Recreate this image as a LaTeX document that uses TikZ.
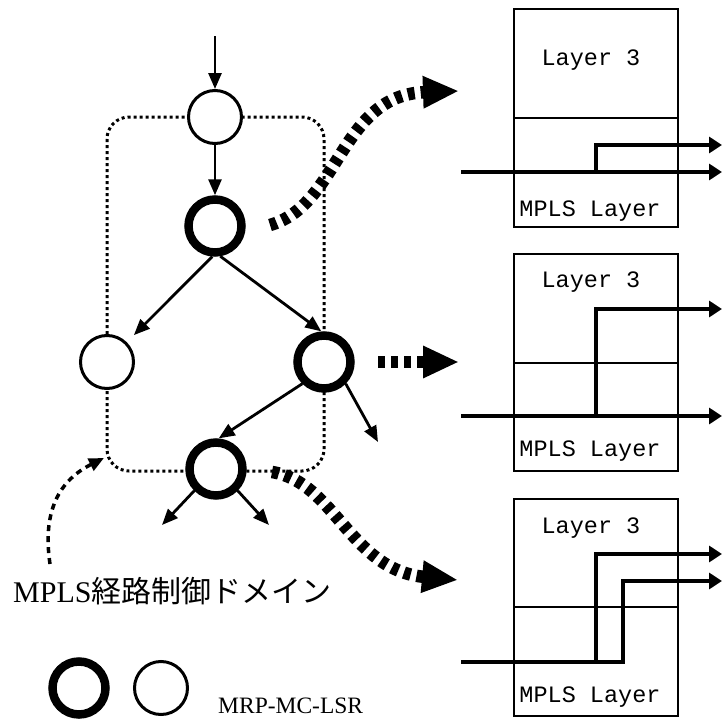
\documentclass[tikz,border=0pt]{standalone}
\usepackage{fontspec}
\setmainfont{Liberation Serif}
\newfontfamily\cjk{Noto Sans CJK JP}
\newfontfamily\monof{Liberation Mono}
\usetikzlibrary{arrows.meta}
\begin{document}
\begin{tikzpicture}[x=1pt,y=-1pt,
  thinnode/.style={circle,draw,line width=3pt,fill=white,minimum size=53pt,inner sep=0pt},
  thicknode/.style={circle,draw,line width=8.5pt,fill=white,minimum size=53pt,inner sep=0pt},
  flow/.style={line width=2.8pt,-{Triangle[length=16pt,width=13pt]}},
  bigflow/.style={line width=12.5pt,dash pattern=on 7pt off 6pt,-{Triangle[length=36pt,width=30pt]}},
  smallflow/.style={line width=3.5pt,dash pattern=on 6pt off 5pt,-{Triangle[length=15pt,width=13pt]}},
  route/.style={line width=4.2pt,-{Triangle[length=13pt,width=16pt]}},
  layerbox/.style={draw,line width=1.4pt},
  monotext/.style={font=\monof\fontsize{23.5}{28}\selectfont,anchor=base,inner sep=0pt},
  domainbox/.style={line width=3pt,dash pattern=on 3pt off 3pt,rounded corners=22pt}
]
\useasboundingbox (0,0) rectangle (724,720);

% domain outline
\draw[domainbox] (107,117) rectangle (324,471);

% nodes
\node[thinnode]  (n1) at (215,117) {};
\node[thicknode] (n2) at (215,226) {};
\node[thinnode]  (n3) at (107,362) {};
\node[thicknode] (n4) at (324,362) {};
\node[thicknode] (n5) at (216,469) {};

\coordinate (in) at (215,36);
\coordinate (o4) at (378,442);
\coordinate (o5a) at (162,525);
\coordinate (o5b) at (269,525);

\draw[flow] (in) -- (n1.north);
\draw[flow] (n1.south) -- (n2.north);
\draw[flow,shorten >=10pt] (n2.-95) -- (n3.45);
\draw[flow] (n2.-80) -- (n4.95);
\draw[flow] (n4.225) -- (n5.85);
\draw[flow] (n4.-45) -- (o4);
\draw[flow] (n5.225) -- (o5a);
\draw[flow] (n5.-45) -- (o5b);

% big dashed arrows
\coordinate (b1s) at (270,225);
\coordinate (b1e) at (459,91);
\coordinate (b2s) at (378,362);
\coordinate (b2e) at (459,362);
\coordinate (b3s) at (272,472);
\coordinate (b3e) at (458,580);
\draw[bigflow] (b1s) .. controls (340,205) and (340,95) .. (b1e);
\draw[bigflow] (b2s) -- (b2e);
\draw[bigflow] (b3s) .. controls (335,482) and (350,570) .. (b3e);

% small dashed arrow to domain
\coordinate (ds) at (50,564);
\coordinate (de) at (104,458);
\draw[smallflow] (ds) .. controls (42,510) and (60,480) .. (de);

% label
\node[anchor=base west,inner sep=0pt,font=\fontsize{30}{36}\selectfont] (lbl) at (13,602) {MPLS{\cjk 経路制御ドメイン}};

% legend
\node[thicknode] (lg1) at (79,688) {};
\node[thinnode]  (lg2) at (161,688) {};
\node[anchor=base west,inner sep=0pt,font=\fontsize{23.5}{28}\selectfont] (lgt) at (218,713) {MRP-MC-LSR};

% right boxes
\draw[layerbox] (514,9) rectangle (678,227);
\draw[layerbox] (514,118) -- (678,118);
\node[monotext] (l31) at (591,65) {Layer 3};
\node[monotext] (ml1) at (590,216) {MPLS Layer};

\draw[layerbox] (514,254) rectangle (678,471);
\draw[layerbox] (514,363) -- (678,363);
\node[monotext] (l32) at (591,287) {Layer 3};
\node[monotext] (ml2) at (590,456) {MPLS Layer};

\draw[layerbox] (514,499) rectangle (678,716);
\draw[layerbox] (514,607) -- (678,607);
\node[monotext] (l33) at (591,533) {Layer 3};
\node[monotext] (ml3) at (590,702) {MPLS Layer};

% routes
\draw[route] (461,172) -- (722,172);
\draw[route] (596,172) -- (596,145) -- (722,145);

\draw[route] (461,416) -- (722,416);
\draw[route] (596,416) -- (596,309) -- (722,309);

\draw[route] (461,662) -- (596,662) -- (596,554) -- (722,554);
\draw[route] (594,662) -- (623,662) -- (623,581) -- (722,581);
\end{tikzpicture}
\end{document}
